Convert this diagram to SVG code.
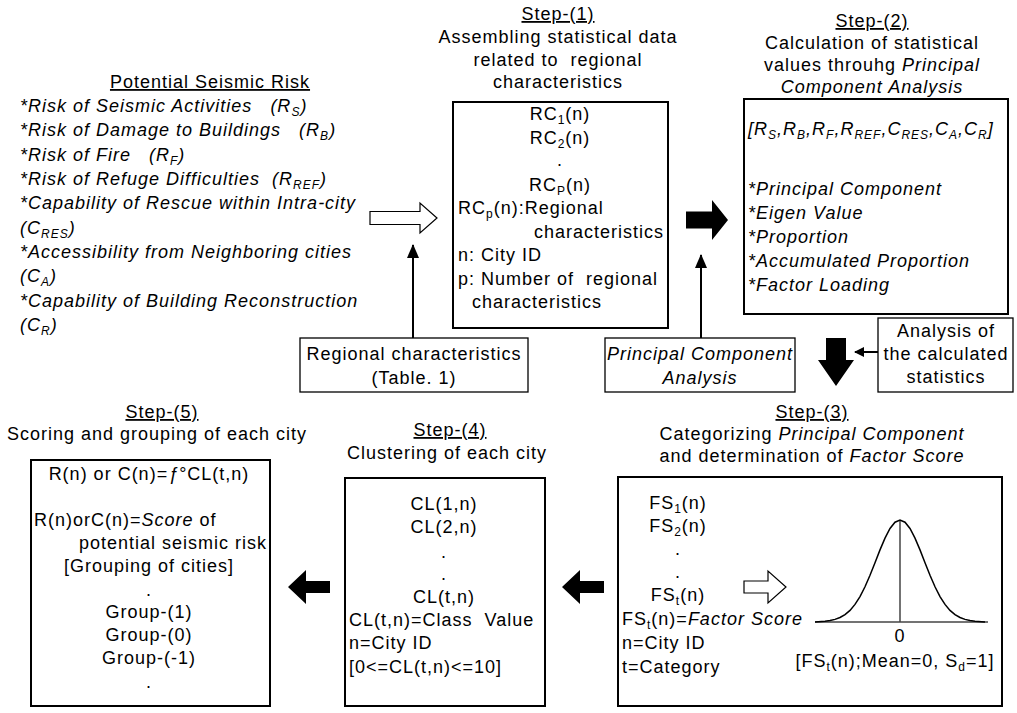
<svg xmlns="http://www.w3.org/2000/svg" width="1017" height="713" viewBox="0 0 1017 713">
<style>
text{font-family:"Liberation Sans",Arial,sans-serif;font-size:18px;letter-spacing:1px;fill:#000;white-space:pre}
.i{font-style:italic}
.u{text-decoration:underline}
.m{text-anchor:middle}
.sub{font-size:12px}
.box{fill:#fff;stroke:#000;stroke-width:2}
.sbox{fill:#fff;stroke:#000;stroke-width:1.3}
.blk{fill:#000;stroke:none}
.hol{fill:#fff;stroke:#000;stroke-width:1.2}
.ln{stroke:#000;stroke-width:2;fill:none}
</style>
<defs>
<marker id="ah" markerWidth="10" markerHeight="10" refX="9" refY="5" orient="auto" markerUnits="userSpaceOnUse"><path d="M0,0 L10,5 L0,10 z" fill="#000"/></marker>
<marker id="ah2" markerWidth="14" markerHeight="12" refX="13" refY="6" orient="auto" markerUnits="userSpaceOnUse"><path d="M0,0 L14,6 L0,12 z" fill="#000"/></marker>
</defs>
<g id="risk-list">
<text x="210" y="88" class="m u">Potential Seismic Risk</text>
<text x="20" y="112" class="i">*Risk of Seismic Activities   (R<tspan class="sub" dy="4">S</tspan><tspan dy="-4">)</tspan></text>
<text x="20" y="136" class="i">*Risk of Damage to Buildings   (R<tspan class="sub" dy="4">B</tspan><tspan dy="-4">)</tspan></text>
<text x="20" y="161" class="i">*Risk of Fire   (R<tspan class="sub" dy="4">F</tspan><tspan dy="-4">)</tspan></text>
<text x="20" y="185" class="i">*Risk of Refuge Difficulties  (R<tspan class="sub" dy="4">REF</tspan><tspan dy="-4">)</tspan></text>
<text x="20" y="209" class="i">*Capability of Rescue within Intra-city</text>
<text x="20" y="234" class="i">(C<tspan class="sub" dy="4">RES</tspan><tspan dy="-4">)</tspan></text>
<text x="20" y="258" class="i">*Accessibility from Neighboring cities</text>
<text x="20" y="282" class="i">(C<tspan class="sub" dy="4">A</tspan><tspan dy="-4">)</tspan></text>
<text x="20" y="307" class="i">*Capability of Building Reconstruction</text>
<text x="20" y="331" class="i">(C<tspan class="sub" dy="4">R</tspan><tspan dy="-4">)</tspan></text>
</g>
<g id="step1">
<text x="558" y="20" class="m u">Step-(1)</text>
<text x="558" y="43" class="m">Assembling statistical data</text>
<text x="558" y="66" class="m">related to  regional</text>
<text x="558" y="88" class="m">characteristics</text>
<rect x="453" y="102" width="215" height="226" class="box"/>
<text x="560" y="120" class="m">RC<tspan class="sub" dy="4">1</tspan><tspan dy="-4">(n)</tspan></text>
<text x="560" y="144" class="m">RC<tspan class="sub" dy="4">2</tspan><tspan dy="-4">(n)</tspan></text>
<text x="560" y="166" class="m">.</text>
<text x="560" y="191" class="m">RC<tspan class="sub" dy="4">P</tspan><tspan dy="-4">(n)</tspan></text>
<text x="458" y="214">RC<tspan class="sub" dy="4">p</tspan><tspan dy="-4">(n):Regional</tspan></text>
<text x="664" y="238" text-anchor="end">characteristics</text>
<text x="458" y="261">n: City ID</text>
<text x="458" y="285">p: Number of  regional</text>
<text x="472" y="308">characteristics</text>
</g>
<g id="step2">
<text x="872" y="27" class="m u">Step-(2)</text>
<text x="872" y="49" class="m">Calculation of statistical</text>
<text x="872" y="71" class="m">values throuhg <tspan class="i">Principal</tspan></text>
<text x="872" y="93" class="m i">Component Analysis</text>
<rect x="744" y="99" width="264" height="215" class="box"/>
<text x="748" y="135" class="i">[R<tspan class="sub" dy="4">S</tspan><tspan dy="-4">,R</tspan><tspan class="sub" dy="4">B</tspan><tspan dy="-4">,R</tspan><tspan class="sub" dy="4">F</tspan><tspan dy="-4">,R</tspan><tspan class="sub" dy="4">REF</tspan><tspan dy="-4">,C</tspan><tspan class="sub" dy="4">RES</tspan><tspan dy="-4">,C</tspan><tspan class="sub" dy="4">A</tspan><tspan dy="-4">,C</tspan><tspan class="sub" dy="4">R</tspan><tspan dy="-4">]</tspan></text>
<text x="748" y="195" class="i">*Principal Component</text>
<text x="748" y="219" class="i">*Eigen Value</text>
<text x="748" y="243" class="i">*Proportion</text>
<text x="748" y="267" class="i">*Accumulated Proportion</text>
<text x="748" y="291" class="i">*Factor Loading</text>
</g>
<g id="regional-box">
<rect x="300" y="338" width="228" height="54" class="sbox"/>
<text x="414" y="360" class="m">Regional characteristics</text>
<text x="414" y="384" class="m">(Table. 1)</text>
</g>
<g id="pca-box">
<rect x="605" y="338" width="190" height="54" class="sbox"/>
<text x="700" y="360" class="m i">Principal Component</text>
<text x="700" y="384" class="m i">Analysis</text>
</g>
<g id="analysis-box">
<rect x="878" y="318" width="135" height="74" class="sbox"/>
<text x="946" y="337" class="m">Analysis of</text>
<text x="946" y="360" class="m">the calculated</text>
<text x="946" y="383" class="m">statistics</text>
</g>
<g id="step3">
<text x="812" y="418" class="m u">Step-(3)</text>
<text x="812" y="440" class="m">Categorizing <tspan class="i">Principal Component</tspan></text>
<text x="812" y="462" class="m">and determination of <tspan class="i">Factor Score</tspan></text>
<rect x="618" y="477" width="384" height="229" class="box"/>
<text x="678" y="509" class="m">FS<tspan class="sub" dy="4">1</tspan><tspan dy="-4">(n)</tspan></text>
<text x="678" y="532" class="m">FS<tspan class="sub" dy="4">2</tspan><tspan dy="-4">(n)</tspan></text>
<text x="678" y="555" class="m">.</text>
<text x="678" y="578" class="m">.</text>
<text x="678" y="601" class="m">FS<tspan class="sub" dy="4">t</tspan><tspan dy="-4">(n)</tspan></text>
<text x="622" y="625">FS<tspan class="sub" dy="4">t</tspan><tspan dy="-4">(n)=</tspan><tspan class="i">Factor Score</tspan></text>
<text x="622" y="649">n=City ID</text>
<text x="622" y="673">t=Category</text>
<polygon points="744,581 768,581 768,571 786,587 768,603 768,593 744,593" class="hol"/>
<line x1="815" y1="622" x2="988" y2="622" stroke="#444" stroke-width="1.5"/>
<line x1="900" y1="520" x2="900" y2="622" stroke="#444" stroke-width="1.5"/>
<polyline fill="none" stroke="#000" stroke-width="1.5" points="815,622 825,621.2 830,620.6 835,619.4 840,617.5 845,614.6 850,610.4 855,604.4 860,596.6 865,586.8 870,575.3 875,562.7 880,549.9 885,538.1 890,528.5 895,522.2 900,520 905,522.2 910,528.5 915,538.1 920,549.9 925,562.7 930,575.3 935,586.8 940,596.6 945,604.4 950,610.4 955,614.6 960,617.5 965,619.4 970,620.6 975,621.2 985,622"/>
<text x="900" y="642" class="m">0</text>
<text x="895" y="667" class="m">[FS<tspan class="sub" dy="4">t</tspan><tspan dy="-4">(n);Mean=0, S</tspan><tspan class="sub" dy="4">d</tspan><tspan dy="-4">=1]</tspan></text>
</g>
<g id="step4">
<text x="450" y="436" class="m u">Step-(4)</text>
<text x="447" y="459" class="m">Clustering of each city</text>
<rect x="345" y="478" width="200" height="228" class="box"/>
<text x="444" y="510" class="m">CL(1,n)</text>
<text x="444" y="533" class="m">CL(2,n)</text>
<text x="444" y="558" class="m">.</text>
<text x="444" y="580" class="m">.</text>
<text x="444" y="603" class="m">CL(t,n)</text>
<text x="349" y="626">CL(t,n)=Class  Value</text>
<text x="349" y="649">n=City ID</text>
<text x="349" y="673">[0&lt;=CL(t,n)&lt;=10]</text>
</g>
<g id="step5">
<text x="162" y="418" class="m u">Step-(5)</text>
<text x="157" y="440" class="m">Scoring and grouping of each city</text>
<rect x="31" y="460" width="239" height="246" class="box"/>
<text x="149" y="480" class="m">R(n) or C(n)=<tspan class="i">ƒ</tspan>°CL(t,n)</text>
<text x="34" y="526">R(n)orC(n)=<tspan class="i">Score</tspan> of</text>
<text x="267" y="549" text-anchor="end">potential seismic risk</text>
<text x="149" y="572" class="m">[Grouping of cities]</text>
<text x="149" y="596" class="m">.</text>
<text x="149" y="618" class="m">Group-(1)</text>
<text x="149" y="641" class="m">Group-(0)</text>
<text x="149" y="664" class="m">Group-(-1)</text>
<text x="149" y="688" class="m">.</text>
</g>
<g id="connectors">
<polygon points="370,211.5 420,211.5 420,203 437,218 420,233 420,224.5 370,224.5" class="hol"/>
<polygon points="686,211.5 712,211.5 712,200 728,220 712,240 712,228.5 686,228.5" class="blk"/>
<line x1="413" y1="338" x2="413" y2="245" class="ln" marker-end="url(#ah2)"/>
<line x1="701" y1="338" x2="701" y2="255" class="ln" marker-end="url(#ah2)"/>
<polygon points="826,338 846,338 846,360 854,360 836,386 818,360 826,360" class="blk"/>
<line x1="878" y1="352" x2="855" y2="352" class="ln" marker-end="url(#ah)"/>
<polygon points="604,581 580,581 580,570 562,587 580,604 580,593 604,593" class="blk"/>
<polygon points="330,581 306,581 306,570 288,587 306,604 306,593 330,593" class="blk"/>
</g>
</svg>
